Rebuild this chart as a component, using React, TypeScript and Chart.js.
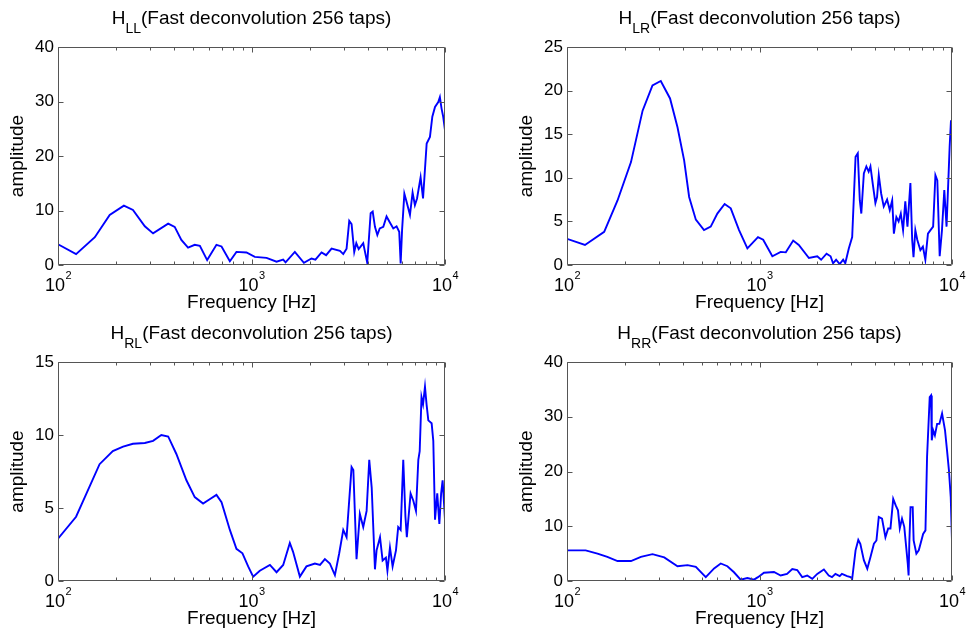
import React, { useEffect, useRef } from 'react';
import { Chart, registerables } from 'chart.js';

Chart.register(...registerables);

const FONT = "'Liberation Sans', Arial, Helvetica, sans-serif";

// ---- data ----
const freqLL = [100,124,155,185,219,244,281,310,371,401,434,470,509,541,590,659,700,773,836,942,1040,1196,1347,1458,1500,1675,1866,2042,2140,2301,2430,2593,2865,2980,3100,3200,3290,3396,3480,3580,3780,3965,4128,4230,4345,4470,4600,4798,4989,5190,5405,5620,5800,5900,6000,6165,6300,6590,6800,6990,7170,7480,7700,8040,8360,8600,8880,9230,9410,9600,9790,10000];
const ampLL = [3.8,2.0,5.1,9.2,10.9,10.1,7.1,5.8,7.6,7.0,4.6,3.2,3.7,3.5,0.9,3.7,3.4,0.7,2.4,2.3,1.5,1.3,0.6,1.0,0.5,2.4,0.4,1.2,1.0,2.3,1.8,3.0,2.6,2.0,3.0,8.1,7.5,2.4,4.0,2.9,4.0,0.4,9.5,9.8,7.0,5.5,6.7,7.0,8.9,7.8,6.7,7.1,6.1,0.3,6.4,13.1,11.9,9.2,13.3,11.0,12.2,16.1,12.2,22.3,23.5,27.2,29.0,29.9,30.8,28.7,27.2,24.7];

const freqLR = [100,124,156,183,215,247,278,307,343,375,406,431,467,515,558,604,659,709,783,865,982,1045,1166,1288,1370,1496,1600,1806,1995,2090,2230,2340,2410,2500,2610,2720,2790,2910,3030,3155,3240,3320,3380,3484,3590,3690,3770,3893,4000,4080,4165,4285,4420,4600,4750,4890,4990,5140,5280,5420,5570,5720,5870,6080,6210,6310,6450,6600,6850,7060,7270,7500,7730,7980,8200,8390,8630,8870,9120,9370,9720,9880,10000];
const ampLR = [3.0,2.3,3.8,7.4,11.8,17.7,20.6,21.1,19.1,15.8,12.0,7.8,5.2,4.0,4.4,5.9,7.0,6.5,4.0,1.9,3.2,2.9,1.0,1.5,1.45,2.8,2.3,0.8,1.0,0.6,1.3,1.0,0.2,0.6,0.1,0.6,0.2,1.9,3.2,12.4,12.8,7.4,5.9,10.5,11.3,10.7,11.3,9.0,7.1,7.8,10.3,8.2,6.7,7.5,6.3,7.4,3.6,5.5,5.0,5.9,4.0,7.3,4.4,9.4,2.9,0.9,4.0,2.9,1.7,2.1,0.6,3.6,4.0,4.4,10.3,9.7,1.0,4.0,8.6,4.4,13.5,16.6,15.5];

const freqRL = [100,124,164,192,217,244,281,310,342,371,409,461,509,562,608,659,700,773,836,898,961,1020,1104,1245,1347,1458,1578,1640,1778,1923,2126,2260,2395,2540,2698,2840,2980,3100,3290,3360,3490,3630,3780,3935,4060,4180,4345,4430,4615,4760,4950,5040,5195,5360,5580,5730,5900,6085,6245,6350,6640,6860,7080,7280,7400,7560,7700,7880,8030,8200,8530,8700,8880,9120,9350,9550,9720,10000];
const ampRL = [2.9,4.4,8.0,8.9,9.2,9.4,9.45,9.6,10.0,9.9,8.7,6.9,5.75,5.3,5.6,5.9,5.4,3.5,2.2,1.9,1.0,0.3,0.7,1.1,0.6,1.1,2.6,2.0,0.3,1.0,1.2,1.1,1.5,1.2,0.4,1.9,3.5,3.0,7.8,7.6,1.5,4.6,3.7,4.8,8.3,6.4,0.8,2.1,3.0,1.4,1.6,0.7,2.3,1.0,2.1,3.7,3.5,8.3,4.4,3.0,6.0,5.5,4.8,8.3,8.9,12.6,12.1,13.3,12.1,11.0,10.8,9.6,4.2,6.0,3.9,6.0,6.9,4.2];

const freqRR = [100,125,144,162,183,215,242,278,320,375,423,467,526,581,629,681,737,798,865,936,982,1055,1189,1288,1390,1480,1570,1667,1770,1880,1995,2160,2290,2380,2480,2610,2680,2853,2970,3030,3155,3260,3340,3484,3630,3772,3930,4050,4165,4330,4510,4660,4790,4950,5100,5240,5355,5500,5650,5890,5950,6000,6090,6250,6320,6530,6720,7080,7280,7420,7660,7780,7850,7990,8150,8370,8600,8880,9200,9420,9640,9850,10000];
const ampRR = [5.6,5.6,5.0,4.4,3.65,3.65,4.4,4.9,4.3,2.7,2.9,2.6,0.7,2.3,3.2,2.7,1.6,0.25,0.55,0.25,0.7,1.5,1.65,1.0,1.3,2.2,2.0,0.7,1.0,0.4,1.3,2.1,1.0,0.7,1.3,0.9,1.3,0.9,0.7,0.4,5.6,7.5,6.8,3.8,2.25,4.4,6.8,7.4,11.7,11.4,8.0,9.6,9.6,15.0,13.8,12.9,9.6,11.4,9.9,3.2,1.0,6.8,13.5,13.5,7.4,5.0,5.6,8.6,9.25,22.6,33.6,33.9,25.7,27.5,26.6,28.7,28.7,30.6,27.5,23.9,20.2,15.3,7.4];

// axis ticks / labels
const xMajorTicks = [100, 1000, 10000];
const xMajorExponents = ['2', '3', '4'];
const xMinorTicks = [200, 300, 400, 500, 600, 700, 800, 900, 2000, 3000, 4000, 5000, 6000, 7000, 8000, 9000];
const titleMain = 'H';
const titleRest = '(Fast deconvolution 256 taps)';
const xAxisTitle = 'Frequency [Hz]';
const yAxisTitle = 'amplitude';

const PAD_T = 47;
const PAD_R = 16;
const Y_W = 58;
const X_H = 53;
const TITLE_SIZE = 19;
const SUB_SIZE = 14;
const LABEL_SIZE = 19;
const TICK_SIZE = 17;

type Cfg = {
  sub: string;
  freq: number[];
  amp: number[];
  yMax: number;
  yStep: number;
  l: number; t: number; r: number; b: number;
};

const plots: Cfg[] = [
  { sub: 'LL', freq: freqLL, amp: ampLL, yMax: 40, yStep: 10, l: 58, t: 47, r: 445, b: 265 },
  { sub: 'LR', freq: freqLR, amp: ampLR, yMax: 25, yStep: 5, l: 567, t: 47, r: 952, b: 265 },
  { sub: 'RL', freq: freqRL, amp: ampRL, yMax: 15, yStep: 5, l: 58, t: 362, r: 445, b: 581 },
  { sub: 'RR', freq: freqRR, amp: ampRR, yMax: 40, yStep: 10, l: 567, t: 362, r: 952, b: 581 },
];

const matlabAxes = {
  id: 'matlabAxes',
  afterDatasetsDraw(chart: any, _args: any, opts: any) {
    const ctx = chart.ctx as CanvasRenderingContext2D;
    const { left, right, top, bottom } = chart.chartArea;
    const xs = chart.scales.x;
    const ys = chart.scales.y;
    ctx.save();
    ctx.strokeStyle = '#555';
    ctx.lineWidth = 1;
    const L = Math.round(left) + 0.5, R = Math.round(right) - 0.5;
    const T = Math.round(top) + 0.5, B = Math.round(bottom) - 0.5;
    ctx.beginPath();
    ctx.rect(L, T, R - L, B - T);
    const drawX = (v: number, len: number) => {
      const px = Math.round(xs.getPixelForValue(v)) + 0.5;
      ctx.moveTo(px, B); ctx.lineTo(px, B - len);
      ctx.moveTo(px, T); ctx.lineTo(px, T + len);
    };
    xMajorTicks.forEach(v => drawX(v, 5));
    xMinorTicks.forEach(v => drawX(v, 3));
    ys.ticks.forEach((t: any) => {
      const py = Math.round(ys.getPixelForValue(t.value)) + 0.5;
      ctx.moveTo(L, py); ctx.lineTo(L + 5, py);
      ctx.moveTo(R, py); ctx.lineTo(R - 5, py);
    });
    ctx.stroke();

    ctx.fillStyle = '#000';
    ctx.textBaseline = 'alphabetic';
    ctx.textAlign = 'left';
    xMajorTicks.forEach((v, i) => {
      const px = xs.getPixelForValue(v);
      ctx.font = `18px ${FONT}`;
      const wb = ctx.measureText('10').width;
      ctx.font = `11px ${FONT}`;
      const we = ctx.measureText(xMajorExponents[i]).width;
      const x0 = px - (wb + we) / 2;
      ctx.font = `18px ${FONT}`;
      ctx.fillText('10', x0, bottom + 25.5);
      ctx.font = `11px ${FONT}`;
      ctx.fillText(xMajorExponents[i], x0 + wb + 0.5, bottom + 14);
    });
    ctx.font = `${TITLE_SIZE}px ${FONT}`;
    const wH = ctx.measureText(titleMain).width;
    const wR = ctx.measureText(titleRest).width;
    ctx.font = `${SUB_SIZE}px ${FONT}`;
    const wS = ctx.measureText(opts.sub).width;
    const cx = (left + right) / 2;
    const tx = cx - (wH + wS + wR) / 2;
    const tb = top - 23;
    ctx.font = `${TITLE_SIZE}px ${FONT}`;
    ctx.fillText(titleMain, tx, tb);
    ctx.font = `${SUB_SIZE}px ${FONT}`;
    ctx.fillText(opts.sub, tx + wH, tb + 9);
    ctx.font = `${TITLE_SIZE}px ${FONT}`;
    ctx.fillText(titleRest, tx + wH + wS, tb);
    ctx.restore();
  },
};

function SubPlot({ cfg }: { cfg: Cfg }) {
  const ref = useRef<HTMLCanvasElement>(null);
  const cw = cfg.r - cfg.l + Y_W + PAD_R;
  const ch = cfg.b - cfg.t + PAD_T + X_H;
  useEffect(() => {
    const canvas = ref.current!;
    const chart = new Chart(canvas, {
      type: 'line',
      data: {
        datasets: [{
          data: cfg.freq.map((f, i) => ({ x: f, y: cfg.amp[i] })),
          borderColor: '#0000ff',
          backgroundColor: '#0000ff',
          borderWidth: 1.9,
          pointRadius: 0,
          tension: 0,
          fill: false,
        }],
      },
      options: {
        responsive: false,
        animation: false,
        devicePixelRatio: 1,
        layout: { padding: { left: 0, top: PAD_T, right: PAD_R, bottom: 0 } },
        plugins: {
          legend: { display: false },
          tooltip: { enabled: false },
          matlabAxes: { sub: cfg.sub },
        } as any,
        scales: {
          x: {
            type: 'logarithmic',
            min: 100,
            max: 10000,
            grid: { display: false, drawTicks: false },
            border: { display: false },
            ticks: { display: false },
            title: {
              display: true,
              text: xAxisTitle,
              color: '#000',
              font: { family: FONT, size: LABEL_SIZE },
              padding: { top: 0, bottom: 4 },
            },
            afterFit: (s: any) => { s.height = X_H; },
          },
          y: {
            type: 'linear',
            min: 0,
            max: cfg.yMax,
            grid: { display: false, drawTicks: false },
            border: { display: false },
            ticks: {
              stepSize: cfg.yStep,
              color: '#000',
              font: { family: FONT, size: TICK_SIZE },
              padding: 4,
            },
            title: {
              display: true,
              text: yAxisTitle,
              color: '#000',
              font: { family: FONT, size: LABEL_SIZE },
              padding: { top: 6.5, bottom: 0 },
            },
            afterFit: (s: any) => { s.width = Y_W; },
          },
        },
      } as any,
      plugins: [matlabAxes as any],
    });
    return () => chart.destroy();
  }, []);
  return (
    <canvas
      ref={ref}
      width={cw}
      height={ch}
      style={{ position: 'absolute', left: cfg.l - Y_W, top: cfg.t - PAD_T, width: cw, height: ch }}
    />
  );
}

export default function App() {
  return (
    <div style={{ position: 'fixed', left: 0, top: 0, width: 968, height: 637, background: '#fff', overflow: 'hidden' }}>
      {plots.map((p) => <SubPlot key={p.sub} cfg={p} />)}
    </div>
  );
}
